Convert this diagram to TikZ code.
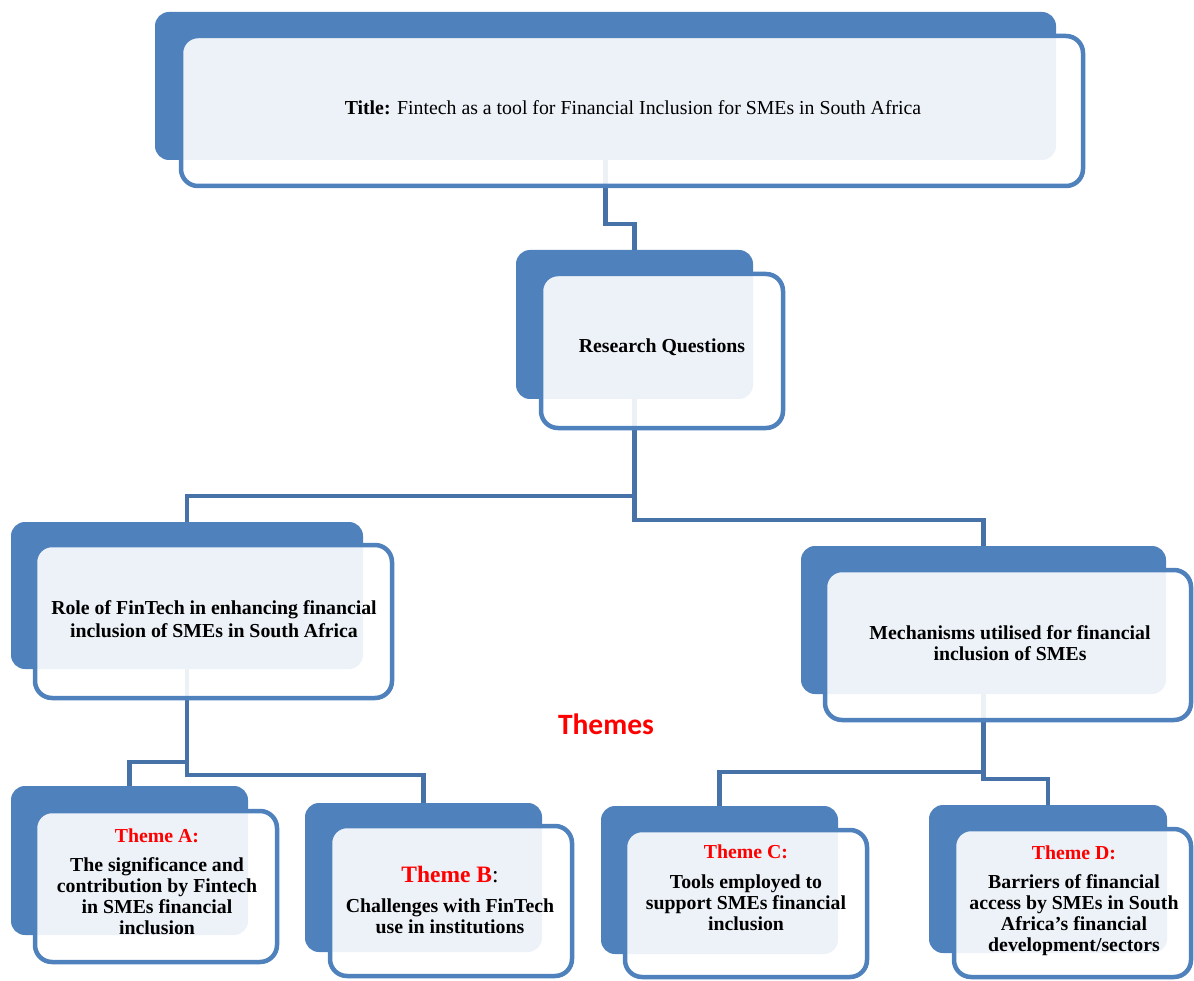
\documentclass[tikz,border=0pt]{standalone}
\usepackage{fontspec}
\setmainfont{Liberation Serif}
\newfontfamily\calibri{Carlito}
\usetikzlibrary{fit}
\definecolor{boxblue}{RGB}{79,129,189}
\definecolor{connblue}{RGB}{70,114,168}
\definecolor{thred}{RGB}{255,0,0}
\begin{document}
\begin{tikzpicture}[x=1pt,y=-1pt,
  backbox/.style={fill=boxblue, rounded corners=14pt, inner sep=0pt},
  frontbox/.style={draw=boxblue, line width=4.5pt, fill=white, fill opacity=0.9, draw opacity=1, rounded corners=17pt, inner sep=0pt},
  conn/.style={draw=connblue, line width=4.5pt},
  txt/.style={align=center, inner sep=0pt, text=black},
  bigtxt/.style={txt, font=\fontsize{19.8}{23}\selectfont\bfseries},
  smalltxt/.style={txt, font=\fontsize{19.8}{21}\selectfont\bfseries}
]
\path[use as bounding box, fill=white] (0,0) rectangle (1194,981);

% back boxes
\node[backbox, fit={(155,12) (1056,160)}] (tb) {};
\node[backbox, fit={(516,250) (753,399)}] (rqb) {};
\node[backbox, fit={(11,522) (363,669)}] (rolb) {};
\node[backbox, fit={(801,546) (1166,694)}] (mechb) {};
\node[backbox, fit={(11,786) (248,935)}] (ab) {};
\node[backbox, fit={(305,803) (542,952)}] (bb) {};
\node[backbox, fit={(601,806) (838,954)}] (cb) {};
\node[backbox, fit={(929,805) (1167,953)}] (db) {};

% connectors
\draw[conn] (tb.south) -- (tb.south |- 0,224) -| (rqb.north);
\draw[conn] (rqb.south) -- (rqb.south |- 0,496) -| (rolb.north);
\draw[conn] (rqb.south) -- (rqb.south |- 0,520) -| (mechb.north);
\draw[conn] (rolb.south) -- (rolb.south |- 0,762) -| (ab.north);
\draw[conn] (rolb.south) -- (rolb.south |- 0,775) -| (bb.north);
\draw[conn] (mechb.south) -- (mechb.south |- 0,772) -| (cb.north);
\draw[conn] (mechb.south) -- (mechb.south |- 0,779) -| (db.north);

% front boxes
\node[frontbox, fit={(181,36) (1083,186)}] (tf) {};
\node[frontbox, fit={(541,274) (783,428)}] (rqf) {};
\node[frontbox, fit={(35,545) (392,698)}] (rolf) {};
\node[frontbox, fit={(825,570) (1191,720)}] (mechf) {};
\node[frontbox, fit={(35,811) (277,962)}] (af) {};
\node[frontbox, fit={(330,826) (572,976)}] (bf) {};
\node[frontbox, fit={(625,830) (867,977)}] (cf) {};
\node[frontbox, fit={(954,829) (1191,977)}] (df) {};

% texts
\node[txt, font=\fontsize{19.8}{22}\selectfont] (tt) at (633,108) {\textbf{Title:} Fintech as a tool for Financial Inclusion for SMEs in South Africa};
\node[bigtxt] (rqt) at (662,347) {Research Questions};
\node[bigtxt] (rolt) at (214,619) {Role of FinTech in enhancing financial\\inclusion of SMEs in South Africa};
\node[smalltxt] (mecht) at (1010,643) {Mechanisms utilised for financial\\inclusion of SMEs};
\node[txt, font=\calibri\fontsize{29.5}{32}\selectfont\bfseries, text=thred] (themes) at (606,724) {Themes};

\node[smalltxt] (at) at (157,882) {\textcolor{thred}{Theme A:}\\[8pt]The significance and\\contribution by Fintech\\in SMEs financial\\inclusion};
\node[smalltxt] (bt) at (450,900) {{\fontsize{23.5}{25}\selectfont\textcolor{thred}{Theme B}\mdseries:}\\[9pt]Challenges with FinTech\\use in institutions};
\node[smalltxt] (ct) at (746,888) {\textcolor{thred}{Theme C:}\\[9pt]Tools employed to\\support SMEs financial\\inclusion};
\node[smalltxt] (dt) at (1074,901) {\textcolor{thred}{Theme D:}\\[8pt]Barriers of financial\\access by SMEs in South\\Africa’s financial\\development/sectors};
\end{tikzpicture}
\end{document}
